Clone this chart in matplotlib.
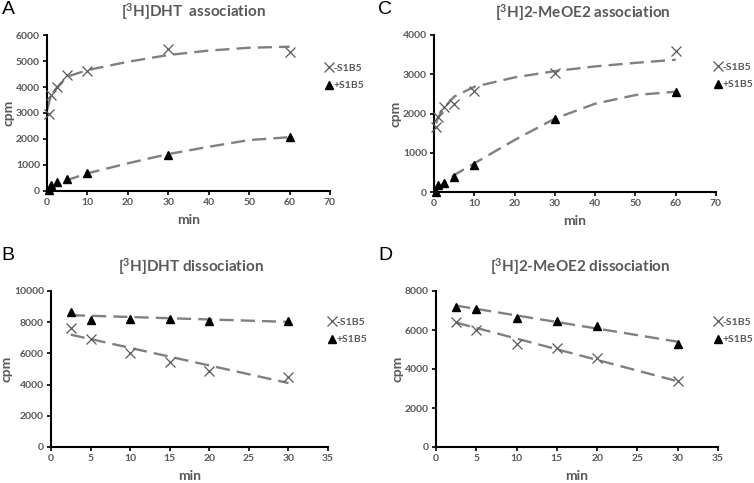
import matplotlib
matplotlib.use("Agg")
import matplotlib.pyplot as plt
from matplotlib.lines import Line2D

TEXT_GRAY = "#595959"
LINE_GRAY = "#808080"
MARK_GRAY = "#595959"

# A: [3H]DHT association
a_time = [0.5, 1, 2.5, 5, 10, 30, 60]
a_minus = [2950, 3700, 4000, 4450, 4600, 5450, 5350]
a_plus = [30, 230, 350, 450, 700, 1400, 2080]
a_fit_time = [0, 1, 2.5, 5, 10, 20, 30, 40, 50, 60]
a_fit_minus = [3100, 3690, 3990, 4400, 4650, 4970, 5230, 5400, 5510, 5550]
a_fit_plus = [0, 90, 230, 420, 680, 1065, 1420, 1700, 1960, 2070]

# C: [3H]2-MeOE2 association
c_time = [0.5, 1, 2.5, 5, 10, 30, 60]
c_minus = [1660, 1920, 2170, 2230, 2570, 3040, 3580]
c_plus = [0, 170, 220, 380, 690, 1870, 2560]
c_fit_time = [0.5, 1, 2.5, 5, 10, 20, 30, 40, 50, 60]
c_fit_minus = [1750, 1900, 2150, 2430, 2680, 2920, 3080, 3200, 3290, 3370]
c_fit_plus = [30, 100, 230, 430, 730, 1325, 1870, 2250, 2470, 2555]

# B: [3H]DHT dissociation
b_time = [2.5, 5, 10, 15, 20, 30]
b_minus = [7610, 6900, 6000, 5430, 4880, 4510]
b_plus = [8650, 8150, 8220, 8220, 8100, 8060]
b_fit_time = [2.5, 30]
b_fit_minus = [7200, 4100]
b_fit_plus = [8450, 8020]

# D: [3H]2-MeOE2 dissociation
d_time = [2.5, 5, 10, 15, 20, 30]
d_minus = [6430, 6000, 5280, 5060, 4580, 3400]
d_plus = [7180, 7080, 6600, 6470, 6180, 5280]
d_fit_time = [2.5, 30]
d_fit_minus = [6380, 3370]
d_fit_plus = [7250, 5400]

plt.rcParams["font.family"] = ["Lato", "DejaVu Sans"]

fig = plt.figure(figsize=(7.54, 4.83), dpi=100)
W, H = 754, 483


def px_axes(x0, x1, y_top, y_bot):
    return fig.add_axes([x0 / W, 1 - y_bot / H, (x1 - x0) / W, (y_bot - y_top) / H])


def draw_panel(ax, t, minus, plus, ft, fminus, fplus, xmax, xstep, ymax, ystep,
               title, title_xy, letter, letter_xy, leg_xy):
    ax.plot(ft, fminus, color=LINE_GRAY, lw=1.7, dashes=(6, 3), zorder=2)
    ax.plot(ft, fplus, color=LINE_GRAY, lw=1.7, dashes=(6, 3), zorder=2)
    ax.plot(t, minus, ls="none", marker="x", ms=7, mew=0.9, color=MARK_GRAY,
            clip_on=False, zorder=3)
    ax.plot(t, plus, ls="none", marker="^", ms=6, color="black",
            clip_on=False, zorder=3)
    ax.set_xlim(0, xmax)
    ax.set_ylim(0, ymax)
    ax.set_xticks(range(0, xmax + 1, xstep))
    ax.set_yticks(range(0, ymax + 1, ystep))
    for s in ("top", "right"):
        ax.spines[s].set_visible(False)
    for s in ("left", "bottom"):
        ax.spines[s].set_linewidth(1.5)
        ax.spines[s].set_color("black")
    ax.tick_params(axis="both", direction="out", length=3, width=1.2,
                   labelsize=7.5, labelcolor=TEXT_GRAY, pad=2)
    for lab in ax.get_xticklabels() + ax.get_yticklabels():
        lab.set_fontweight("bold")
    ax.set_xlabel("min", fontsize=10, fontweight="bold", color=TEXT_GRAY, labelpad=5)
    ax.set_ylabel("cpm", fontsize=10, fontweight="bold", color=TEXT_GRAY, labelpad=1)
    fig.text(title_xy[0] / W, 1 - title_xy[1] / H, title, ha="center", va="center",
             fontsize=11, fontweight="bold", color=TEXT_GRAY)
    fig.text(letter_xy[0] / W, 1 - letter_xy[1] / H, letter, ha="center", va="center",
             fontsize=14, color="black", family="Liberation Sans")
    handles = [
        Line2D([], [], ls="none", marker="x", ms=6.5, mew=0.9, color=MARK_GRAY),
        Line2D([], [], ls="none", marker="^", ms=5.5, color="black"),
    ]
    leg = ax.legend(handles, ["-S1B5", "+S1B5"], loc="center left",
                    bbox_to_anchor=(leg_xy[0] / W, 1 - leg_xy[1] / H),
                    bbox_transform=fig.transFigure, frameon=False,
                    handlelength=0.7, handletextpad=0.1, labelspacing=0.8,
                    prop={"size": 7.5, "weight": "bold"}, borderaxespad=0)
    for txt in leg.get_texts():
        txt.set_color(TEXT_GRAY)


ax_a = px_axes(47, 330, 35, 191)
draw_panel(ax_a, a_time, a_minus, a_plus, a_fit_time, a_fit_minus, a_fit_plus,
           70, 10, 6000, 1000, r"[$\mathregular{^3}$H]DHT  association", (193, 12),
           "A", (8, 10), (321, 77))

ax_c = px_axes(434, 716, 35, 192)
draw_panel(ax_c, c_time, c_minus, c_plus, c_fit_time, c_fit_minus, c_fit_plus,
           70, 10, 4000, 1000, r"[$\mathregular{^3}$H]2-MeOE2 association", (583, 13),
           "C", (385, 10), (710, 76))

ax_b = px_axes(51, 328, 291, 447)
draw_panel(ax_b, b_time, b_minus, b_plus, b_fit_time, b_fit_minus, b_fit_plus,
           35, 5, 10000, 2000, r"[$\mathregular{^3}$H]DHT dissociation", (191, 267),
           "B", (8, 255), (324, 331))

ax_d = px_axes(436, 718, 291, 447)
draw_panel(ax_d, d_time, d_minus, d_plus, d_fit_time, d_fit_minus, d_fit_plus,
           35, 5, 8000, 2000, r"[$\mathregular{^3}$H]2-MeOE2 dissociation", (580, 267),
           "D", (385, 255), (710, 331))

fig.savefig("out.png", dpi=100, facecolor="white")
